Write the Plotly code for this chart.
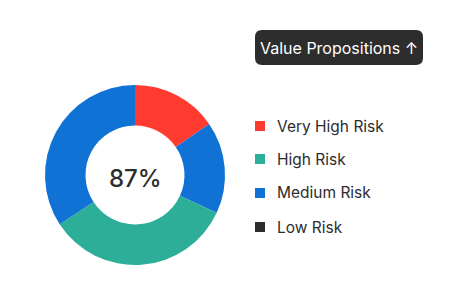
import plotly.graph_objects as go

W, H = 453, 296

# Donut slices (clockwise from 12 o'clock)
slice_labels = ["Very High Risk", "Medium Risk (a)", "High Risk", "Medium Risk (b)"]
slice_values = [15.4, 16.5, 33.9, 34.2]
slice_colors = ["#FF3B30", "#1072D4", "#2CAE99", "#1072D4"]

# Legend entries
legend_labels = ["Very High Risk", "High Risk", "Medium Risk", "Low Risk"]
legend_colors = ["#FF3B30", "#2CAE99", "#1072D4", "#2D2D2D"]

center_text = "87%"
button_text = "Value Propositions ↑"

FONT = "Inter, Roboto, sans-serif"

fig = go.Figure()
fig.add_trace(go.Pie(
    labels=slice_labels,
    values=slice_values,
    marker=dict(colors=slice_colors, line=dict(width=0)),
    hole=0.55,
    sort=False,
    direction="clockwise",
    rotation=0,
    textinfo="none",
    hoverinfo="label+percent",
    showlegend=False,
    domain=dict(x=[45 / W, 225 / W], y=[1 - 265 / H, 1 - 85 / H]),
))

shapes = []
annotations = []

# center label
annotations.append(dict(
    x=135 / W, y=1 - 178 / H, xref="paper", yref="paper",
    text=center_text, showarrow=False,
    font=dict(family=FONT, size=24, color="#2D2D2D", weight=500),
    xanchor="center", yanchor="middle",
))

# custom legend
ys = [126, 159, 193, 227]
for lab, col, yc in zip(legend_labels, legend_colors, ys):
    shapes.append(dict(
        type="rect", xref="paper", yref="paper",
        x0=255 / W, x1=265 / W, y0=1 - (yc + 5) / H, y1=1 - (yc - 5) / H,
        fillcolor=col, line=dict(width=0),
    ))
    annotations.append(dict(
        x=275 / W, y=1 - yc / H, xref="paper", yref="paper",
        text=lab, showarrow=False,
        font=dict(family=FONT, size=15.5, color="#2D2D2D"),
        xanchor="left", yanchor="middle",
    ))

# button
x0, y0, x1, y1, r = 255, 30, 423, 65, 7
path = (
    f"M {x0 + r},{y0} L {x1 - r},{y0} Q {x1},{y0} {x1},{y0 + r} "
    f"L {x1},{y1 - r} Q {x1},{y1} {x1 - r},{y1} "
    f"L {x0 + r},{y1} Q {x0},{y1} {x0},{y1 - r} "
    f"L {x0},{y0 + r} Q {x0},{y0} {x0 + r},{y0} Z"
)

def to_paper_path(p):
    out = []
    for tok in p.split(" "):
        if "," in tok:
            a, b = tok.split(",")
            out.append(f"{float(a) / W:.5f},{1 - float(b) / H:.5f}")
        else:
            out.append(tok)
    return " ".join(out)

shapes.append(dict(
    type="path", xref="paper", yref="paper", path=to_paper_path(path),
    fillcolor="#2D2D2D", line=dict(width=0),
))
annotations.append(dict(
    x=(x0 + x1) / 2 / W, y=1 - (y0 + y1) / 2 / H, xref="paper", yref="paper",
    text=button_text, showarrow=False,
    font=dict(family=FONT, size=16, color="#FFFFFF"),
    xanchor="center", yanchor="middle",
))

fig.update_layout(
    width=W, height=H,
    margin=dict(l=0, r=0, t=0, b=0),
    paper_bgcolor="#FFFFFF", plot_bgcolor="#FFFFFF",
    shapes=shapes, annotations=annotations,
    showlegend=False,
)

fig.write_html("out.html", config={"displayModeBar": False})
